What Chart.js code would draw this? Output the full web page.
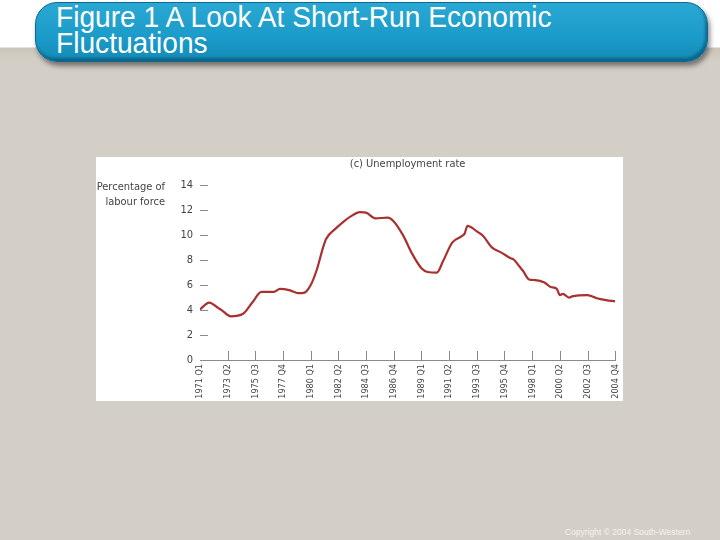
<!DOCTYPE html>
<html>
<head>
<meta charset="utf-8">
<script src="https://cdn.jsdelivr.net/npm/chart.js@4/dist/chart.umd.min.js"></script>
<style>
  body { margin: 0; width: 720px; height: 540px; overflow: hidden; position: relative;
         background: linear-gradient(#ffffff 0px, #ffffff 47px, #cbc5bb 48px, #d4cfc6 60px, #d4cfc6 540px);
         font-family: "Liberation Sans", Arial, sans-serif; }
  #bar { position: absolute; left: 35px; top: 2px; width: 671px; height: 58px; border-radius: 22px;
         background: linear-gradient(#2aa8d4, #1b9bc9 60%, #148bb6);
         border: 1px solid #0b6a8f; box-shadow: 2px 4px 5px rgba(40,40,40,0.55), inset -2px -3px 3px rgba(0,60,90,0.5); }
  #title { position: absolute; left: 56px; top: 4px; color: #fff; font-size: 29px; line-height: 26px;
           transform: scaleX(0.97); transform-origin: left top; white-space: nowrap; }
  #box { position: absolute; left: 96px; top: 157px; width: 527px; height: 244px; background: #fff; }
  #chart { position: absolute; left: 0; top: 0; }
  #ytitle { position: absolute; left: 70px; top: 179px; width: 95px; text-align: right; color: #444; white-space: nowrap;
            font-family: "DejaVu Sans Condensed", sans-serif; font-size: 11px; line-height: 15px; }
  #copy { position: absolute; left: 565px; top: 527px; color: #f4f2ee; font-size: 8.5px; }
</style>
</head>
<body>
<div id="bar"></div>
<div id="title">Figure 1 A Look At Short-Run Economic<br>Fluctuations</div>
<div id="box"><canvas id="chart" width="534" height="244"></canvas></div>
<div id="ytitle">Percentage of<br>labour force</div>
<div id="copy">Copyright © 2004 South-Western</div>
<script>
// quarters counted from 1971 Q1 (= 0) to 2004 Q4 (= 135)
const quarterIdx = [0, 3, 6, 7, 10, 14, 17, 20, 24, 26, 29, 32, 34, 36, 38, 40, 41, 44, 47, 49, 52, 54,
  57, 61, 63, 66, 69, 72, 74, 77, 79, 82, 85, 86, 87, 90, 92, 95, 98, 101, 102, 104, 105, 107, 109,
  112, 114, 116, 117, 118, 120, 121, 126, 129, 132, 135];
const unemployment = [4.05, 4.6, 4.15, 4.0, 3.5, 3.7, 4.6, 5.45, 5.45, 5.7, 5.6, 5.35, 5.4, 6.0, 7.25, 9.0, 9.7,
  10.5, 11.15, 11.5, 11.85, 11.8, 11.35, 11.4, 11.1, 10.0, 8.5, 7.35, 7.05, 7.0, 7.9, 9.4, 9.9, 10.1, 10.75,
  10.3, 9.95, 9.0, 8.6, 8.15, 8.05, 7.45, 7.15, 6.45, 6.4, 6.2, 5.85, 5.7, 5.2, 5.3, 5.0, 5.1, 5.2, 4.95, 4.8, 4.7];
const tickLabels = ["1971 Q1", "1973 Q2", "1975 Q3", "1977 Q4", "1980 Q1", "1982 Q2", "1984 Q3", "1986 Q4",
  "1989 Q1", "1991 Q2", "1993 Q3", "1995 Q4", "1998 Q1", "2000 Q2", "2002 Q3", "2004 Q4"];

const narrow = "'DejaVu Sans Condensed', sans-serif";

// short tick marks pointing into the plot
const innerTicks = {
  id: "innerTicks",
  afterDraw(chart) {
    const c = chart.ctx, x = chart.scales.x, y = chart.scales.y;
    c.save();
    c.strokeStyle = "#8a8a8a";
    c.lineWidth = 1;
    c.beginPath();
    y.ticks.forEach(t => {
      if (t.value === 0) return;
      const py = Math.round(y.getPixelForValue(t.value)) + 0.5;
      c.moveTo(x.left, py);
      c.lineTo(x.left + 8, py);
    });
    x.ticks.forEach(t => {
      if (t.value === 0) return;
      const px = Math.round(x.getPixelForValue(t.value)) + 0.5;
      c.moveTo(px, y.bottom);
      c.lineTo(px, y.bottom - 9);
    });
    c.stroke();
    c.restore();
  }
};

new Chart(document.getElementById("chart"), {
  type: "line",
  data: {
    datasets: [{
      data: quarterIdx.map((q, i) => ({ x: q, y: unemployment[i] })),
      borderColor: "#a8302e",
      borderWidth: 2.2,
      pointRadius: 0,
      cubicInterpolationMode: "monotone",
    }],
  },
  options: {
    responsive: false,
    animation: false,
    layout: { padding: { left: 0, right: 0, top: 0, bottom: 0 } },
    plugins: {
      legend: { display: false },
      tooltip: { enabled: false },
      title: {
        display: true,
        text: "(c) Unemployment rate",
        fullSize: false,
        color: "#444",
        font: { family: narrow, size: 11, weight: "normal" },
        padding: { top: 1, bottom: 14 },
      },
    },
    scales: {
      x: {
        type: "linear",
        min: 0,
        max: 135,
        afterFit: s => { s.height = 41; },
        grid: { display: false, drawTicks: false },
        border: { display: true, color: "#8a8a8a", width: 1 },
        ticks: {
          stepSize: 9,
          autoSkip: false,
          minRotation: 90,
          maxRotation: 90,
          padding: 4,
          color: "#444",
          font: { family: narrow, size: 9 },
          callback: v => tickLabels[v / 9],
        },
      },
      y: {
        min: 0,
        max: 14,
        afterFit: s => { s.width = 104; },
        grid: { display: false, drawTicks: false },
        border: { display: false },
        ticks: { stepSize: 2, padding: 7, color: "#444", font: { family: narrow, size: 11 } },
      },
    },
  },
  plugins: [innerTicks],
});
</script>
</body>
</html>
